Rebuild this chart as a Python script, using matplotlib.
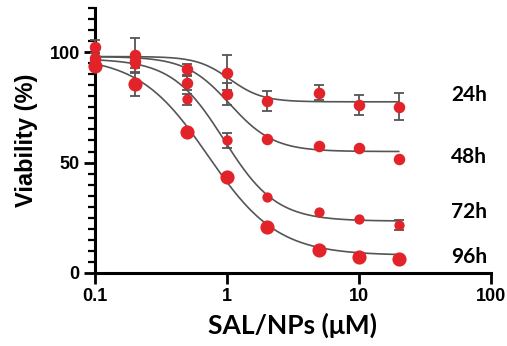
import numpy as np
import matplotlib
matplotlib.use("Agg")
import matplotlib.pyplot as plt
from matplotlib.ticker import FixedLocator, NullLocator, MultipleLocator

# concentrations (uM)
conc = [0.1, 0.2, 0.5, 1, 2, 5, 10, 20]
labels = ["24h", "48h", "72h", "96h"]

via_24 = [97.5, 98.6, 92.2, 90.7, 77.9, 81.6, 76.1, 75.3]
err_24 = [2.0, 8.0, 2.5, 8.0, 4.5, 3.5, 4.4, 6.0]
via_48 = [102.5, 96.0, 86.2, 81.2, 60.5, 57.7, 56.4, 51.6]
err_48 = [3.0, 1.5, 3.2, 5.0, 0, 0, 0, 0]
via_72 = [95.5, 94.5, 78.6, 60.2, 34.2, 27.4, 24.4, 21.8]
err_72 = [1.0, 1.5, 2.5, 3.4, 0, 0, 0, 2.4]
via_96 = [93.5, 85.7, 63.8, 43.5, 21.0, 10.5, 7.4, 6.3]
err_96 = [1.0, 5.5, 0, 0, 0, 0, 0, 0]

# 4PL fit parameters per time point
fit_top = [98, 98, 97, 98]
fit_bottom = [77.5, 55, 23.5, 8]
fit_ec50 = [1.05, 1.05, 0.95, 0.72]
fit_hill = [3.5, 2.6, 2.2, 1.65]

red = "#e3232a"
grey = "#555555"
msizes = [8.3, 8.3, 7.4, 10.2]
label_y = [80.5, 52.3, 27.7, 7.3]

fig = plt.figure(figsize=(5.07, 3.46), dpi=100)
ax = fig.add_axes([0.1874, 0.211, 0.781, 0.766])

series = [(via_24, err_24), (via_48, err_48), (via_72, err_72), (via_96, err_96)]
xs = np.logspace(np.log10(0.1), np.log10(20), 300)
for i, (v, e) in enumerate(series):
    y = fit_bottom[i] + (fit_top[i] - fit_bottom[i]) / (1 + (xs / fit_ec50[i]) ** fit_hill[i])
    ax.plot(xs, y, color=grey, lw=1.2, zorder=2)
    x_arr = np.array(conc)
    v_arr = np.array(v)
    e_arr = np.array(e)
    m = e_arr > 0
    ax.errorbar(x_arr[m], v_arr[m], yerr=e_arr[m], fmt="none", ecolor=grey,
                elinewidth=1.3, capsize=3.8, capthick=1.3, zorder=3, clip_on=False)
    ax.plot(conc, v, "o", color=red, ms=msizes[i], mec="none", zorder=4, clip_on=False)
    ax.text(50, label_y[i], labels[i], fontsize=15, fontweight="bold",
            family="Lato", va="center", ha="left")

ax.set_xscale("log")
ax.set_xlim(0.1, 100)
ax.set_ylim(0, 120)
ax.xaxis.set_major_locator(FixedLocator([0.1, 1, 10, 100]))
ax.xaxis.set_minor_locator(NullLocator())
ax.set_xticklabels(["0.1", "1", "10", "100"])
ax.yaxis.set_major_locator(FixedLocator([0, 50, 100]))
ax.yaxis.set_minor_locator(MultipleLocator(5))

for s in ["top", "right"]:
    ax.spines[s].set_visible(False)
for s in ["left", "bottom"]:
    ax.spines[s].set_linewidth(2.2)

ax.tick_params(axis="both", which="major", width=2, length=8, labelsize=13, pad=3)
ax.tick_params(axis="y", which="minor", width=1.6, length=5)
for t in ax.get_xticklabels() + ax.get_yticklabels():
    t.set_fontweight("bold")
    t.set_family("Liberation Sans")

ax.set_xlabel("SAL/NPs (μM)", fontsize=19, fontweight="bold", family="Lato", labelpad=5)
ax.set_ylabel("Viability (%)", fontsize=17, fontweight="bold", family="Liberation Sans", labelpad=8)

fig.savefig("out.png", dpi=100)
